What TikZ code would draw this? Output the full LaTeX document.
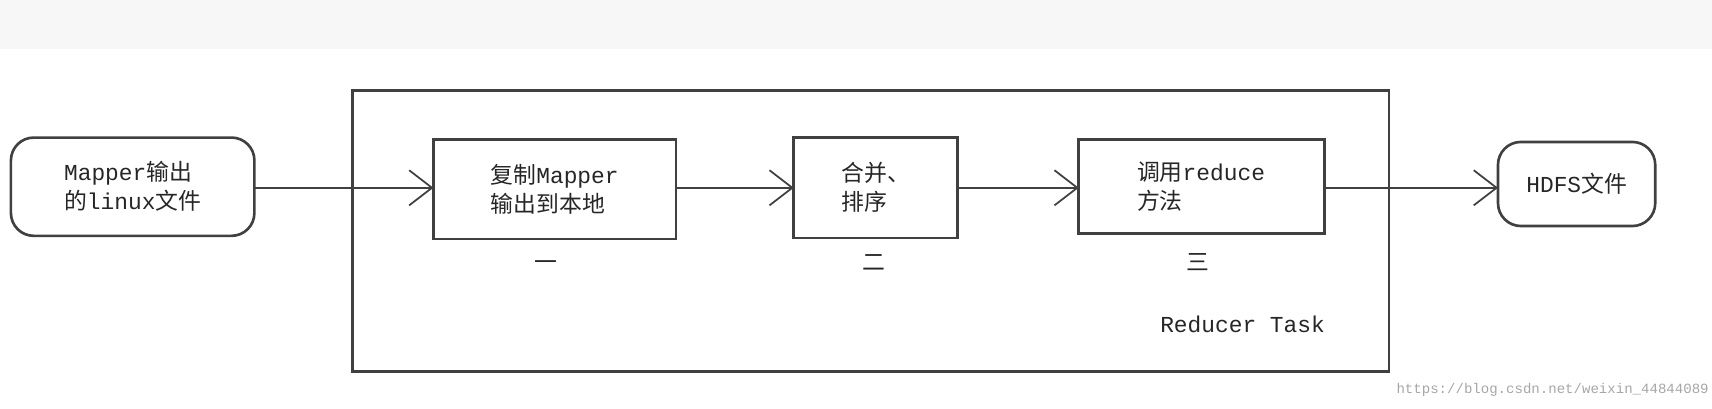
\documentclass[tikz,border=0pt]{standalone}
\usepackage{fontspec}
\setmainfont{Liberation Mono}
\newfontfamily\cjk{Noto Sans CJK SC}
\usetikzlibrary{arrows.meta}
\begin{document}
\begin{tikzpicture}[x=0.02184cm,y=-0.02184cm,
  lbl/.style={font=\fontsize{13pt}{16.5pt}\selectfont, align=left, text=black!85},
  box/.style={draw=black!75, line width=1.5pt},
  arr/.style={-{Straight Barb[length=13pt,width=20pt]}, line width=1pt, draw=black!75}]
\useasboundingbox (0,0) rectangle (1568,373.7);
\fill[black!3] (0,0) rectangle (1568,45);
\draw[box, rounded corners=13pt] (10,126) rectangle (233,216);
\node[lbl] (a) at (121.5,171) {Mapper{\cjk 输出}\\{\cjk 的}linux{\cjk 文件}};
\coordinate (ae) at (233,172);
\draw[box] (323,83) rectangle (1272,340);
\draw[box] (397,128) rectangle (619,219);
\node[lbl] (b1) at (508,173) {{\cjk 复制}Mapper\\{\cjk 输出到本地}};
\draw[box] (727,126) rectangle (877,218);
\node[lbl] (b2) at (802,172) {{\cjk 合并、}\\{\cjk 排序}};
\draw[box] (988,128) rectangle (1213,214);
\node[lbl] (b3) at (1100,171) {{\cjk 调用}reduce\\{\cjk 方法}};
\draw[box, rounded corners=13pt] (1372,130) rectangle (1516,207);
\node[lbl] (h) at (1444,168) {HDFS{\cjk 文件}};
\node[lbl] (n1) at (500,243) {\cjk 一};
\node[lbl] (n2) at (800,240) {\cjk 二};
\node[lbl] (n3) at (1097,240) {\cjk 三};
\node[lbl] (rt) at (1138,297) {Reducer Task};
\node[font=\fontsize{8pt}{10pt}\selectfont, text=black!35] (w) at (1422,357) {https://blog.csdn.net/weixin\_44844089};
\coordinate (b1w) at (397,172); \coordinate (b1e) at (619,172);
\coordinate (b2w) at (727,172); \coordinate (b2e) at (877,172);
\coordinate (b3w) at (988,172); \coordinate (b3e) at (1213,172);
\coordinate (hw) at (1372,172);
\draw[arr] (ae) -- (b1w);
\draw[arr] (b1e) -- (b2w);
\draw[arr] (b2e) -- (b3w);
\draw[arr] (b3e) -- (hw);
\end{tikzpicture}
\end{document}
